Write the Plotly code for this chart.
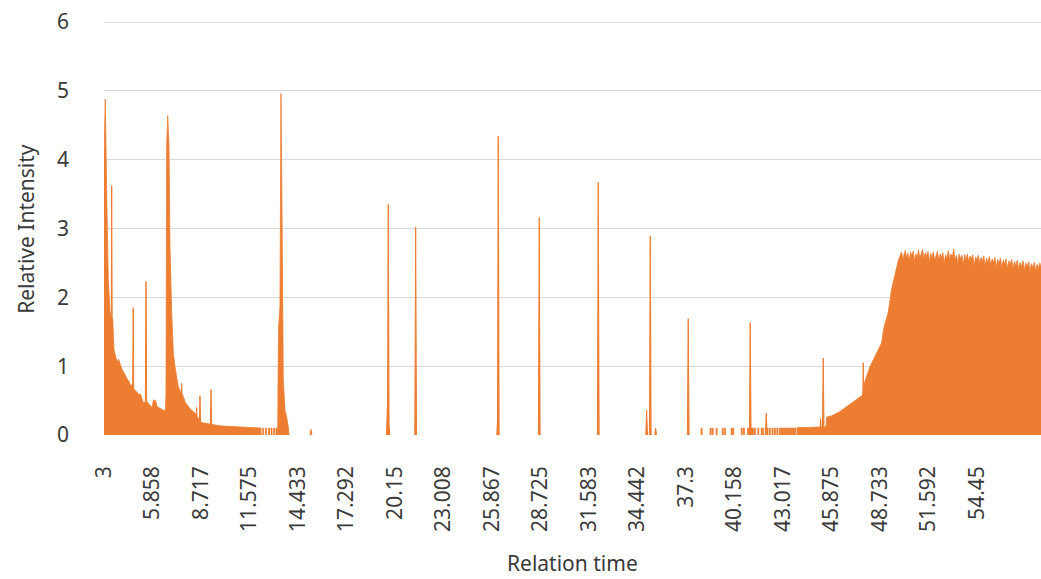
import plotly.graph_objects as go

# ---- data (time in minutes, relative intensity) ----
early_t = [3.000, 3.077, 3.159, 3.253, 3.354, 3.412, 3.513, 3.589, 3.707, 3.800,
           3.860, 3.943, 4.050, 4.120, 4.200, 4.338, 4.400, 4.473, 4.560, 4.633,
           4.768, 4.850, 4.927, 5.062, 5.140, 5.222, 5.316, 5.534, 5.620, 5.711,
           5.829, 5.917, 6.035, 6.123, 6.200, 6.300, 6.400, 6.494, 6.624, 6.653,
           6.695, 6.754, 6.830, 6.889, 6.989, 7.084, 7.184, 7.319, 7.378, 7.500,
           7.673, 7.800, 7.968, 8.150, 8.362, 8.462, 8.757, 9.100, 9.423, 10.000,
           10.602, 11.200, 11.780, 12.250, 12.260]
early_v = [4.05, 4.88, 3.47, 2.26, 1.78, 1.72, 1.68, 1.24, 1.12, 1.06,
           1.10, 1.02, 0.96, 0.93, 0.90, 0.83, 0.80, 0.78, 0.72, 0.73,
           0.66, 0.64, 0.63, 0.58, 0.60, 0.54, 0.47, 0.48, 0.46, 0.44,
           0.40, 0.51, 0.50, 0.42, 0.40, 0.39, 0.37, 0.36, 0.36, 0.60,
           4.20, 4.64, 4.20, 2.74, 1.78, 1.20, 0.99, 0.80, 0.70, 0.64,
           0.56, 0.47, 0.41, 0.36, 0.32, 0.27, 0.18, 0.16, 0.15, 0.13,
           0.12, 0.11, 0.10, 0.10, 0.00]

peak_t = [13.220, 13.240, 13.260, 13.290, 13.371, 13.430, 13.489, 13.566, 13.666,
          13.750, 13.860, 13.902]
peak_v = [0.00, 0.10, 0.90, 1.57, 1.87, 4.96, 3.32, 0.80, 0.36, 0.28, 0.12, 0.00]

rise_t = [43.820, 43.895, 44.500, 45.200, 45.550, 45.590, 45.900, 46.370, 46.960,
          47.355, 47.708, 47.844, 48.139, 48.534, 48.828, 48.964, 49.217, 49.418,
          49.671, 49.807]
rise_v = [0.10, 0.11, 0.11, 0.12, 0.12, 0.26, 0.28, 0.34, 0.44,
          0.51, 0.58, 0.78, 0.99, 1.19, 1.34, 1.56, 1.78, 2.12,
          2.40, 2.53]

plateau_t = [50.00, 50.08, 50.15, 50.22, 50.30, 50.37, 50.46, 50.53, 50.60, 50.69,
             50.77, 50.84, 50.93, 51.00, 51.08, 51.15, 51.24, 51.31, 51.40, 51.47,
             51.56, 51.63, 51.72, 51.80, 51.87, 51.96, 52.03, 52.12, 52.19, 52.28,
             52.36, 52.43, 52.52, 52.60, 52.67, 52.76, 52.84, 52.91, 53.00, 53.08,
             53.15, 53.24, 53.32, 53.40, 53.48, 53.56, 53.64, 53.72, 53.80, 53.88,
             53.96, 54.04, 54.13, 54.20, 54.28, 54.37, 54.45, 54.52, 54.61, 54.69,
             54.77, 54.85, 54.93, 55.01, 55.09, 55.17, 55.26, 55.34, 55.42, 55.50,
             55.58, 55.67, 55.75, 55.83, 55.91, 56.00, 56.08, 56.16, 56.24, 56.33,
             56.41, 56.49, 56.58, 56.66, 56.74, 56.82, 56.91, 56.99, 57.07, 57.16,
             57.24, 57.32, 57.40, 57.49, 57.57, 57.65, 57.74, 57.82, 57.90, 57.99,
             58.07, 58.15, 58.22]
plateau_v = [2.66, 2.55, 2.62, 2.68, 2.57, 2.64, 2.53, 2.66, 2.60, 2.67,
             2.52, 2.63, 2.58, 2.69, 2.56, 2.62, 2.70, 2.55, 2.65, 2.59,
             2.67, 2.51, 2.64, 2.57, 2.66, 2.54, 2.61, 2.67, 2.53, 2.63,
             2.58, 2.65, 2.50, 2.62, 2.56, 2.68, 2.54, 2.63, 2.59, 2.70,
             2.55, 2.61, 2.49, 2.63, 2.56, 2.61, 2.47, 2.62, 2.55, 2.63,
             2.52, 2.60, 2.56, 2.62, 2.46, 2.59, 2.53, 2.61, 2.49, 2.58,
             2.52, 2.60, 2.45, 2.57, 2.51, 2.59, 2.47, 2.56, 2.50, 2.58,
             2.44, 2.55, 2.49, 2.57, 2.43, 2.54, 2.48, 2.56, 2.42, 2.53,
             2.47, 2.55, 2.41, 2.52, 2.46, 2.54, 2.40, 2.51, 2.45, 2.53,
             2.39, 2.50, 2.44, 2.52, 2.38, 2.49, 2.43, 2.51, 2.39, 2.48,
             2.42, 2.50, 2.44]

spike_t = [3.454, 4.721, 5.475, 7.579, 8.462, 8.657, 9.305, 15.200, 19.700, 19.753,
           19.800, 21.367, 26.200, 26.235, 28.651, 32.128, 34.980, 35.192, 35.510,
           37.431, 41.085, 42.028, 45.233, 45.386, 47.744]
spike_v = [3.62, 1.85, 2.23, 0.75, 0.40, 0.57, 0.66, 0.08, 0.40, 3.35,
           0.12, 3.02, 0.25, 4.34, 3.16, 3.67, 0.36, 2.89, 0.10,
           1.69, 1.63, 0.32, 0.24, 1.12, 1.05]

lowbar_t = [12.38, 12.55, 12.72, 12.87, 13.03, 13.17,
            38.22, 38.75, 38.87, 39.10, 39.46, 39.59, 39.99, 40.08, 40.58, 40.71,
            40.95, 41.02, 41.10, 41.18, 41.24, 41.36, 41.56, 41.76, 41.85, 42.10,
            42.24, 42.40, 42.54, 42.68, 42.83, 42.93, 43.00, 43.08, 43.15, 43.25,
            43.33, 43.42, 43.50, 43.58, 43.66, 43.74]
lowbar_v = [0.10, 0.10, 0.10, 0.10, 0.10, 0.10,
            0.10, 0.10, 0.10, 0.10, 0.10, 0.10, 0.10, 0.10, 0.10, 0.10,
            0.10, 0.10, 0.10, 0.10, 0.10, 0.10, 0.10, 0.10, 0.10, 0.10,
            0.10, 0.10, 0.10, 0.10, 0.10, 0.10, 0.10, 0.10, 0.10, 0.10,
            0.10, 0.10, 0.10, 0.10, 0.10, 0.10]

tick_labels = ["3", "5.858", "8.717", "11.575", "14.433", "17.292", "20.15",
               "23.008", "25.867", "28.725", "31.583", "34.442", "37.3",
               "40.158", "43.017", "45.875", "48.733", "51.592", "54.45"]
tick_vals = [float(s) for s in tick_labels]
y_ticks = [0, 1, 2, 3, 4, 5, 6]

ORANGE = "#ED7D31"
GRID = "#d9d9d9"
FONT = "Noto Sans"
TXT = "#3a3a3a"


def triangles(ts, vs, w):
    xs, ys = [], []
    for t, v in zip(ts, vs):
        xs += [t - w, t, t + w, None]
        ys += [0, v, 0, None]
    return xs, ys


def rects(ts, vs, w):
    xs, ys = [], []
    for t, v in zip(ts, vs):
        xs += [t - w, t - w, t + w, t + w, None]
        ys += [0, v, v, 0, None]
    return xs, ys


fig = go.Figure()
for tx, vy in [(early_t, early_v), (peak_t, peak_v),
               (rise_t + plateau_t, rise_v + plateau_v)]:
    fig.add_trace(go.Scatter(x=tx, y=vy, mode="lines", fill="tozeroy",
                             fillcolor=ORANGE, line=dict(color=ORANGE, width=0.8),
                             hoverinfo="skip", showlegend=False))

sx, sy = triangles(spike_t, spike_v, 0.05)
fig.add_trace(go.Scatter(x=sx, y=sy, mode="lines", fill="toself",
                         fillcolor=ORANGE, line=dict(color=ORANGE, width=1),
                         hoverinfo="skip", showlegend=False))
bx, by = rects(lowbar_t, lowbar_v, 0.03)
fig.add_trace(go.Scatter(x=bx, y=by, mode="lines", fill="toself",
                         fillcolor=ORANGE, line=dict(color=ORANGE, width=0.8),
                         hoverinfo="skip", showlegend=False))

# top gridline (at the range edge) drawn explicitly
fig.add_shape(type="line", xref="paper", yref="y", x0=0, x1=1,
              y0=y_ticks[-1], y1=y_ticks[-1], line=dict(color=GRID, width=1.3),
              layer="below")

fig.update_layout(
    width=1041, height=579,
    margin=dict(l=104, r=0, t=22, b=144),
    paper_bgcolor="white", plot_bgcolor="white",
    font=dict(family=FONT, size=20, color=TXT),
    xaxis=dict(range=[3, 58.22], tickmode="array", tickvals=tick_vals,
               ticktext=tick_labels, tickangle=-90, showgrid=False,
               zeroline=False, showline=False, ticks="",
               ticklabelstandoff=26, tickfont=dict(size=21, color=TXT)),
    yaxis=dict(range=[0, 6], tickmode="array", tickvals=y_ticks,
               showgrid=True, gridcolor=GRID, ticklabeloverflow="allow",
               gridwidth=1.3, zeroline=False, showline=False, ticks="",
               ticklabelstandoff=34, tickfont=dict(size=21, color=TXT)),
    annotations=[
        dict(text="Relation time", xref="paper", yref="paper", x=0.5, y=-0.31,
             xanchor="center", yanchor="middle", showarrow=False,
             font=dict(size=21, color=TXT)),
        dict(text="Relative Intensity", xref="paper", yref="paper", x=-0.084,
             y=0.5, xanchor="center", yanchor="middle", textangle=-90,
             showarrow=False, font=dict(size=21, color=TXT)),
    ],
)

fig.write_html("out.html",
               config={"displayModeBar": False},
               post_script="document.body.style.margin='0';"
                           "document.body.style.overflow='hidden';")
